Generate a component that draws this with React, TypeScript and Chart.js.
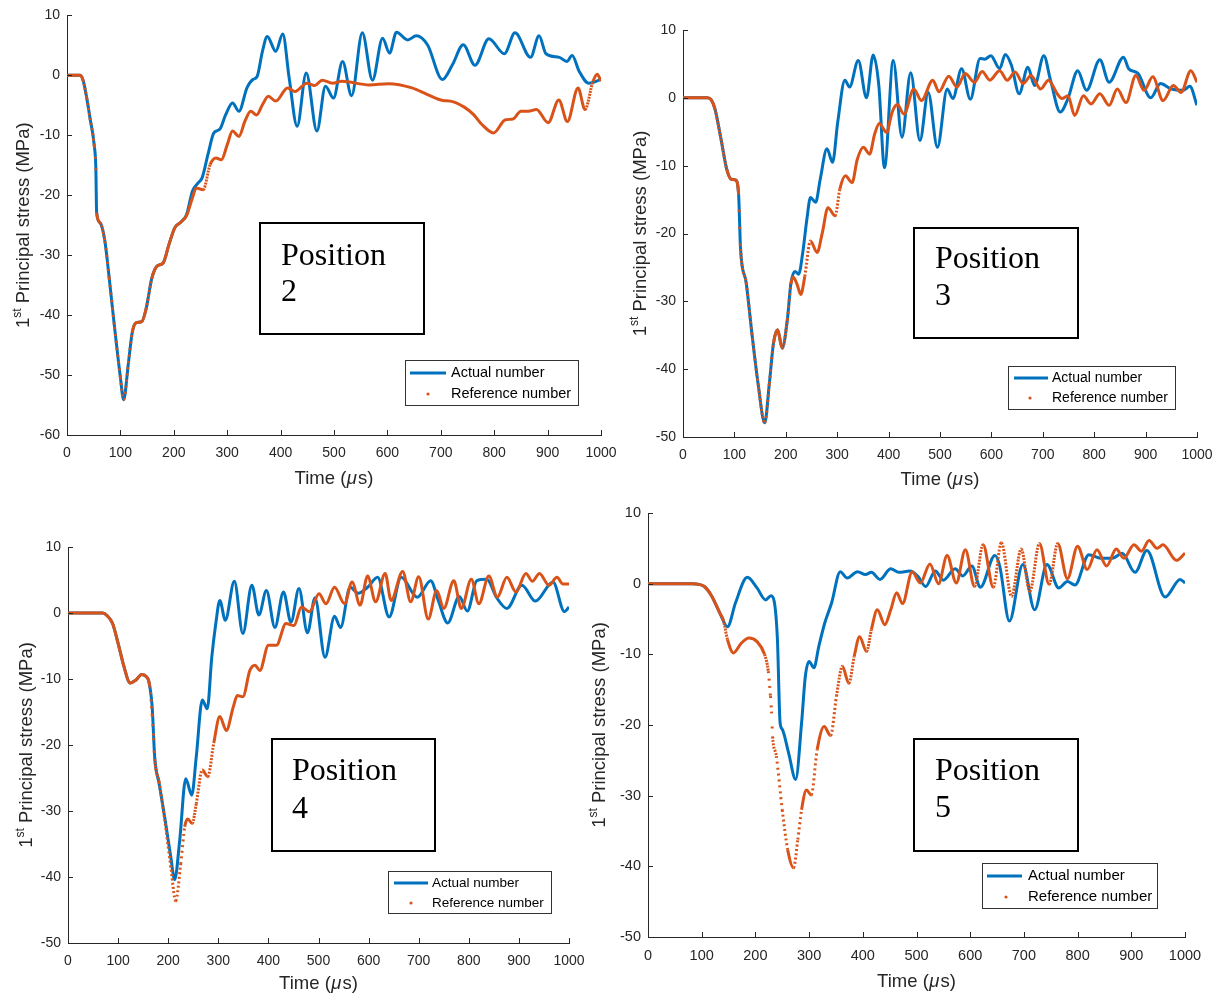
import { useEffect, useRef } from 'react';
import { Chart, registerables } from 'chart.js';

Chart.register(...registerables);

type Pt = [number, number];

const BLUE = '#0072BD';
const ORANGE = '#D95319';
const AXIS = '#262626';
const SANS = "'Liberation Sans', Arial, sans-serif";
const SERIF = "'Liberation Serif', 'Times New Roman', serif";

const seriesNames = ['Actual number', 'Reference number'];
const positionLabels = ['2', '3', '4', '5'];
const xTitleParts = ['Time (', '\u03bc', 's)'];
const yTitleParts = ['1', 'st', ' Principal stress (MPa)'];

// ---------- Position 2 ----------
const pos2Actual: Pt[] = [
  [0, 0], [24, 0], [30, -0.8], [37, -3.8], [43, -7.1], [51, -11.7], [54, -15.5], [55.5, -22.9], [62, -24.6],
  [71, -27.7], [79, -33.8], [89, -42], [100, -50.4], [106, -54.1], [115, -48], [122, -43], [129, -41.3],
  [140, -41.1], [148, -39], [159, -33.8], [169, -31.8], [180, -31.3], [191, -28.2], [202, -25.4], [213, -24.5],
  [224, -23.2], [235, -19.3], [246, -17.9], [253, -17.1], [264, -13.2], [275, -9.6], [286, -9], [297, -6.6],
  [310, -4.6], [322, -6], [337, -2.1], [348, -0.7], [356, -0.2], [366, 4], [375, 6.5], [391, 4], [404, 6.9],
  [416, -0.4], [431, -8.5], [448, 0.4], [468, -9.3], [484, -1.8], [499, -3.8], [516, 2.3], [533, -3.4],
  [553, 7.1], [572, -0.8], [591, 6.2], [604, 3.7], [617, 7.2], [638, 5.9], [654, 6.6], [675, 5.1], [703, -0.7],
  [722, 1.8], [742, 5.1], [764, 1.7], [790, 6.1], [819, 3.6], [839, 7.1], [868, 3], [884, 6.6], [897, 3.6],
  [922, 3], [936, 2.3], [946, 3.3], [959, 0.7], [977, -1.3], [991, -1], [1000, -0.6],
];
const pos2Reference: Pt[] = [
  [0, 0], [24, 0], [30, -0.8], [37, -3.8], [43, -7.1], [51, -11.7], [54, -15.5], [55.5, -22.9], [62, -24.6],
  [71, -27.7], [79, -33.8], [89, -42], [100, -50.4], [106, -54.1], [115, -48], [122, -43], [129, -41.3],
  [140, -41.1], [148, -39], [159, -33.8], [169, -31.8], [180, -31.3], [191, -28.2], [202, -25.4], [213, -24.5],
  [224, -23.4], [235, -20.4], [242, -18.8], [255, -19.1], [268, -14.9], [279, -13.8], [289, -14.1], [300, -11.6],
  [310, -9.3], [322, -10.2], [333, -7.7], [344, -6], [355, -6.6], [366, -4.9], [377, -3.5], [391, -4.3],
  [413, -2.1], [427, -2.7], [449, -1.3], [464, -1.7], [478, -0.8], [497, -1.3], [515, -1], [566, -1.6],
  [602, -1.4], [646, -2.1], [675, -3.2], [704, -4.2], [718, -4.3], [744, -5.3], [762, -6.6], [777, -8.2],
  [799, -9.6], [821, -7.4], [835, -7.3], [850, -6], [864, -6], [879, -5.7], [901, -7.9], [921, -4.1],
  [937, -7.7], [957, -2.1], [970, -5.7], [985, -1], [993, 0.2], [1000, -1],
];

// ---------- Position 3 ----------
const pos3Actual: Pt[] = [
  [0, 0], [47, 0], [55, -0.3], [62, -1.6], [74, -6.1], [85, -10.5], [94, -12], [102, -12.1], [108, -14],
  [112, -22.3], [123, -27.3], [134, -34.7], [146, -42.1], [159, -47.9], [168, -42.1], [176, -36.2], [184, -34.2],
  [193, -36.9], [203, -32.7], [210, -27.3], [218, -25.6], [225, -26], [233, -22.8], [241, -17.9], [248, -14.7],
  [258, -15.4], [267, -12], [280, -7.5], [291, -9.5], [301, -3.6], [315, 2.6], [324, 1.6], [341, 5.5], [357, 0],
  [370, 6.3], [381, 1.8], [392, -10.3], [409, 5.5], [426, -5.8], [443, 3.7], [461, -6.3], [477, 0.8],
  [495, -7.3], [514, 1.3], [525, -0.1], [542, 4.3], [559, -0.2], [578, 5.8], [587, 5.7], [599, 6.2],
  [616, 4.3], [627, 6.4], [639, 4.8], [654, 0.6], [671, 4.5], [684, 1.8], [702, 6.2], [715, 2.6], [734, -2.1],
  [749, -0.1], [768, 4], [785, 1.1], [811, 5.6], [829, 2.3], [857, 6], [867, 4.3], [885, 3.6], [910, 0],
  [929, 2.1], [950, 1.3], [973, 1.1], [986, 1.7], [1000, -1.1],
];
const pos3Reference: Pt[] = [
  [0, 0], [47, 0], [55, -0.3], [62, -1.6], [74, -6.1], [85, -10.5], [94, -12], [102, -12.1], [108, -14],
  [112, -22.3], [123, -27.3], [134, -34.7], [146, -42.1], [159, -47.9], [168, -42.1], [176, -36.2], [184, -34.2],
  [193, -36.9], [203, -32.7], [210, -27.5], [214, -26.4], [222, -27.5], [229, -29], [237, -26.3], [248, -21.1],
  [261, -22.8], [271, -19.9], [282, -16.2], [296, -17.4], [305, -13.5], [316, -11.5], [329, -12.5], [339, -9.1],
  [351, -7.3], [363, -8.3], [373, -5.3], [382, -3.8], [396, -5.1], [407, -2.1], [417, -1], [430, -2.4],
  [449, 1.3], [464, -0.4], [486, 2.6], [498, 0.9], [517, 3.2], [533, 1.6], [549, 3.6], [567, 2.3], [582, 3.9],
  [597, 2.6], [616, 4], [631, 2.6], [646, 3.8], [662, 2.1], [677, 3.3], [696, 1.3], [711, 2.6], [728, 0.6],
  [737, -0.1], [749, 0.3], [762, -2.6], [779, 0.3], [794, -0.9], [811, 0.6], [829, -1.1], [845, 1.3],
  [862, -0.7], [881, 3.3], [897, 1.1], [914, 3.1], [934, -0.4], [954, 1.8], [969, 0.8], [988, 4], [1000, 2.3],
];

// ---------- Position 4 ----------
const pos4Actual: Pt[] = [
  [0, 0], [69, 0], [78, -0.4], [89, -1.6], [100, -4.6], [112, -8.2], [124, -10.6], [135, -10.2], [147, -9.3],
  [157, -9.7], [161, -10.3], [168, -14.2], [173, -21.8], [182, -25.9], [194, -31.4], [205, -36.9], [213, -40.4],
  [223, -34.4], [235, -25.1], [247, -27.6], [256, -21.8], [268, -13.2], [278, -14.5], [287, -6.7], [295, -1.6],
  [303, 1.9], [314, -1.1], [332, 4.8], [349, -3.1], [367, 4.2], [381, -0.3], [396, 3.4], [413, -2.2],
  [430, 3.2], [445, -1.4], [461, 3.7], [478, -3], [493, 2.3], [513, -6.7], [532, -0.5], [544, -2.2],
  [563, 3.9], [579, 3], [598, 3.9], [618, 5.4], [641, -0.6], [665, 5.4], [697, 2.4], [724, 4.9], [739, 1.9],
  [758, -1.5], [781, 2.5], [797, 0.3], [816, 4.9], [836, 5.1], [855, 2.4], [876, 0.7], [906, 4.2], [933, 1.8],
  [968, 4.7], [991, 0.2], [1000, 0.9],
];
const pos4Reference: Pt[] = [
  [0, 0], [69, 0], [78, -0.4], [89, -1.6], [100, -4.6], [112, -8.2], [124, -10.6], [135, -10.2], [147, -9.3],
  [157, -9.7], [163, -11], [168, -15.4], [171, -19], [173, -22.1], [182, -25.6], [194, -31.9], [205, -38.3],
  [215, -43.6], [225, -38], [233, -32.4], [239, -31.2], [248, -31.9], [256, -28.9], [268, -23.8], [279, -24.8],
  [291, -19.7], [303, -15.7], [316, -17.8], [330, -14.2], [338, -12.5], [349, -12.7], [363, -8.7], [373, -7.9],
  [383, -8.7], [400, -4.9], [416, -4.9], [435, -1.6], [451, -1.9], [466, 0.9], [482, 0.2], [501, 2.9],
  [515, 1.4], [532, 3.9], [552, 1.4], [567, 4.7], [583, 1.2], [598, 5.6], [614, 1.7], [633, 6], [645, 1.9],
  [668, 6.3], [684, 1.7], [700, 5.5], [719, -0.9], [736, 3.4], [750, 0.7], [770, 4.9], [785, 0.7], [805, 5.1],
  [820, 1.4], [840, 5.6], [857, 2.4], [876, 5.4], [894, 3.2], [914, 6], [927, 4.8], [941, 6], [960, 4.2],
  [976, 5.4], [988, 4.4], [1000, 4.4],
];

// ---------- Position 5 ----------
const pos5Actual: Pt[] = [
  [0, 0], [83, 0], [95, -0.1], [105, -0.4], [119, -1.8], [134, -4.2], [148, -6.1], [163, -2.7], [185, 0.9],
  [203, -0.6], [219, -2.3], [229, -1.7], [235, -2.5], [241, -7.9], [246, -19.7], [250, -20.6], [262, -24],
  [275, -27.7], [286, -19.7], [293, -13.1], [300, -11], [309, -11.9], [318, -8.9], [329, -5.6], [342, -2.7],
  [358, 1.7], [371, 0.8], [390, 1.7], [405, 1.3], [416, 1.6], [432, 0.6], [452, 2.1], [467, 1.6], [488, 1.8],
  [503, 1], [517, -0.4], [535, 1.8], [550, 0.5], [572, 2.1], [586, 1.1], [603, 2.5], [619, -0.5], [646, 4],
  [655, 2.5], [673, -5.3], [698, 2.7], [720, -3.7], [743, 2.7], [765, -0.6], [781, 0.3], [795, -0.2],
  [821, 4.1], [843, 3.6], [865, 3.6], [883, 4.3], [907, 1.6], [929, 4.7], [963, -1.9], [991, 0.6], [1000, 0.1],
];
const pos5Reference: Pt[] = [
  [0, 0], [83, 0], [95, -0.1], [105, -0.4], [119, -1.8], [134, -4.2], [140, -5.1], [148, -7.9], [159, -9.8],
  [174, -8.4], [188, -7.7], [203, -8.2], [217, -10], [224, -12.4], [228, -15.9], [230, -18.1], [232, -21.6],
  [239, -24.4], [250, -32], [260, -37.6], [271, -40.2], [279, -36.2], [286, -32], [295, -29.2], [304, -29.9],
  [315, -23.5], [328, -20.2], [340, -21.5], [351, -15.9], [362, -11.7], [374, -14.1], [384, -10.3], [394, -7.5],
  [407, -9.6], [416, -6.5], [427, -3.7], [441, -5.8], [452, -3.7], [463, -1.3], [474, -2.8], [492, 1.7],
  [507, 0.1], [525, 2.8], [541, 0], [557, 4], [574, 0.1], [591, 4.8], [608, -0.4], [624, 5.5], [643, -0.5],
  [658, 5.8], [677, -1.8], [695, 4.9], [711, -1.1], [729, 5.7], [747, -0.1], [763, 5.7], [781, 0.7], [800, 5.3],
  [818, 2], [836, 4.8], [854, 2.5], [872, 4.9], [886, 3.6], [905, 5.5], [919, 4.6], [933, 6.1], [948, 5],
  [959, 5.5], [984, 3.3], [1000, 4.3],
];

interface PanelCfg {
  canvas: { left: number; top: number; width: number; height: number };
  area: { l: number; t: number; r: number; b: number };
  yMin: number;
  yMax: number;
  actual: Pt[];
  reference: Pt[];
  label: string;
  sampleUs: number;
  tickSize: number;
  yTitleX: number;
  xTitleY: number;
  box: { l: number; t: number; r: number; b: number; textX: number; base1: number; base2: number };
  legend: { l: number; t: number; r: number; b: number; x0: number; x1: number; dotX: number; textX: number; row1: number; row2: number; size: number };
}

const panels: PanelCfg[] = [
  {
    canvas: { left: 0, top: 0, width: 640, height: 492 },
    area: { l: 67, t: 14, r: 601, b: 435 },
    yMin: -60, yMax: 10, actual: pos2Actual, reference: pos2Reference, label: positionLabels[0],
    sampleUs: 1.5, tickSize: 14, yTitleX: 22, xTitleY: 477,
    box: { l: 260, t: 223, r: 424, b: 334, textX: 281, base1: 265, base2: 301 },
    legend: { l: 405, t: 360, r: 578, b: 405, x0: 410, x1: 446, dotX: 428, textX: 451, row1: 373, row2: 394, size: 14.5 },
  },
  {
    canvas: { left: 615, top: 0, width: 625, height: 492 },
    area: { l: 683, t: 30, r: 1197, b: 437 },
    yMin: -50, yMax: 10, actual: pos3Actual, reference: pos3Reference, label: positionLabels[1],
    sampleUs: 1.2, tickSize: 14, yTitleX: 639, xTitleY: 478,
    box: { l: 914, t: 228, r: 1078, b: 338, textX: 935, base1: 268, base2: 305 },
    legend: { l: 1008, t: 366, r: 1175, b: 409, x0: 1014, x1: 1048, dotX: 1030, textX: 1052, row1: 378, row2: 398, size: 14 },
  },
  {
    canvas: { left: 0, top: 495, width: 605, height: 498 },
    area: { l: 68, t: 547, r: 569, b: 943 },
    yMin: -50, yMax: 10, actual: pos4Actual, reference: pos4Reference, label: positionLabels[2],
    sampleUs: 1.2, tickSize: 14, yTitleX: 25, xTitleY: 982,
    box: { l: 272, t: 739, r: 435, b: 851, textX: 292, base1: 780, base2: 818 },
    legend: { l: 388, t: 871, r: 551, b: 913, x0: 394, x1: 428, dotX: 411, textX: 432, row1: 883, row2: 903, size: 13.5 },
  },
  {
    canvas: { left: 580, top: 495, width: 641, height: 498 },
    area: { l: 648, t: 513, r: 1185, b: 937 },
    yMin: -50, yMax: 10, actual: pos5Actual, reference: pos5Reference, label: positionLabels[3],
    sampleUs: 1.2, tickSize: 14.5, yTitleX: 598, xTitleY: 980,
    box: { l: 914, t: 739, r: 1078, b: 851, textX: 935, base1: 780, base2: 817 },
    legend: { l: 982, t: 863, r: 1157, b: 908, x0: 987, x1: 1022, dotX: 1006, textX: 1028, row1: 876, row2: 897, size: 15 },
  },
];

function makeDotDash(sampleUs: number) {
  return (ctx: any) => {
    const dx = Math.abs(ctx.p1.x - ctx.p0.x);
    const dy = Math.abs(ctx.p1.y - ctx.p0.y);
    const dt = Math.abs(ctx.p1.parsed.x - ctx.p0.parsed.x) || 1;
    const step = (sampleUs * Math.hypot(dx, dy)) / dt;
    return step > 2.9 ? [2, step - 2] : undefined;
  };
}

function decorPlugin(p: PanelCfg) {
  return {
    id: 'decor',
    afterDraw(chart: any) {
      const ctx: CanvasRenderingContext2D = chart.ctx;
      const ox = p.canvas.left;
      const oy = p.canvas.top;
      const xs = chart.scales.x;
      const ys = chart.scales.y;
      const ca = chart.chartArea;
      ctx.save();

      // inward tick marks
      ctx.strokeStyle = AXIS;
      ctx.lineWidth = 1;
      ctx.beginPath();
      xs.ticks.forEach((t: any) => {
        const px = Math.round(xs.getPixelForValue(t.value)) + 0.5;
        ctx.moveTo(px, ca.bottom);
        ctx.lineTo(px, ca.bottom - 5);
      });
      ys.ticks.forEach((t: any) => {
        const py = Math.round(ys.getPixelForValue(t.value)) + 0.5;
        ctx.moveTo(ca.left, py);
        ctx.lineTo(ca.left + 5, py);
      });
      ctx.stroke();

      // y title with superscript
      const big = 18.5;
      const small = 12;
      ctx.fillStyle = AXIS;
      ctx.textBaseline = 'alphabetic';
      ctx.textAlign = 'left';
      ctx.font = `${big}px ${SANS}`;
      const w1 = ctx.measureText(yTitleParts[0]).width;
      const w3 = ctx.measureText(yTitleParts[2]).width;
      ctx.font = `${small}px ${SANS}`;
      const w2 = ctx.measureText(yTitleParts[1]).width;
      const total = w1 + w2 + w3;
      const cy = (ca.top + ca.bottom) / 2;
      ctx.save();
      ctx.translate(p.yTitleX - ox, cy);
      ctx.rotate(-Math.PI / 2);
      let u = -total / 2;
      ctx.font = `${big}px ${SANS}`;
      ctx.fillText(yTitleParts[0], u, 6.5);
      u += w1;
      ctx.font = `${small}px ${SANS}`;
      ctx.fillText(yTitleParts[1], u, -1.5);
      u += w2;
      ctx.font = `${big}px ${SANS}`;
      ctx.fillText(yTitleParts[2], u, 6.5);
      ctx.restore();

      // x title with italic mu
      const xt = 18.5;
      ctx.font = `${xt}px ${SANS}`;
      const a = ctx.measureText(xTitleParts[0]).width;
      const c = ctx.measureText(xTitleParts[2]).width;
      ctx.font = `italic ${xt}px ${SANS}`;
      const b = ctx.measureText(xTitleParts[1]).width + 1.5;
      let xx = (ca.left + ca.right) / 2 - (a + b + c) / 2;
      const ty = p.xTitleY - oy + 6.5;
      ctx.font = `${xt}px ${SANS}`;
      ctx.fillText(xTitleParts[0], xx, ty);
      xx += a;
      ctx.font = `italic ${xt}px ${SANS}`;
      ctx.fillText(xTitleParts[1], xx + 0.5, ty);
      xx += b;
      ctx.font = `${xt}px ${SANS}`;
      ctx.fillText(xTitleParts[2], xx, ty);

      // position text box
      const bx = p.box;
      ctx.fillStyle = '#ffffff';
      ctx.fillRect(bx.l - ox, bx.t - oy, bx.r - bx.l, bx.b - bx.t);
      ctx.strokeStyle = '#000000';
      ctx.lineWidth = 2;
      ctx.strokeRect(bx.l - ox, bx.t - oy, bx.r - bx.l, bx.b - bx.t);
      ctx.fillStyle = '#000000';
      ctx.font = `32px ${SERIF}`;
      ctx.fillText('Position', bx.textX - ox, bx.base1 - oy);
      ctx.fillText(p.label, bx.textX - ox, bx.base2 - oy);

      // legend
      const lg = p.legend;
      ctx.fillStyle = '#ffffff';
      ctx.fillRect(lg.l - ox, lg.t - oy, lg.r - lg.l, lg.b - lg.t);
      ctx.strokeStyle = '#333333';
      ctx.lineWidth = 1;
      ctx.strokeRect(lg.l - ox + 0.5, lg.t - oy + 0.5, lg.r - lg.l, lg.b - lg.t);
      ctx.strokeStyle = BLUE;
      ctx.lineWidth = 3;
      ctx.beginPath();
      ctx.moveTo(lg.x0 - ox, lg.row1 - oy);
      ctx.lineTo(lg.x1 - ox, lg.row1 - oy);
      ctx.stroke();
      ctx.fillStyle = ORANGE;
      ctx.beginPath();
      ctx.arc(lg.dotX - ox, lg.row2 - oy, 1.6, 0, Math.PI * 2);
      ctx.fill();
      ctx.fillStyle = '#000000';
      ctx.textBaseline = 'middle';
      ctx.font = `${lg.size}px ${SANS}`;
      ctx.fillText(seriesNames[0], lg.textX - ox, lg.row1 - oy);
      ctx.fillText(seriesNames[1], lg.textX - ox, lg.row2 - oy);

      ctx.restore();
    },
  };
}

function Panel({ p }: { p: PanelCfg }) {
  const ref = useRef<HTMLCanvasElement | null>(null);
  useEffect(() => {
    if (!ref.current) return;
    const yW = p.area.l - p.canvas.left;
    const xH = p.canvas.top + p.canvas.height - p.area.b;
    const padTop = p.area.t - p.canvas.top;
    const padRight = p.canvas.left + p.canvas.width - p.area.r;
    const chart = new Chart(ref.current, {
      type: 'line',
      data: {
        datasets: [
          {
            label: seriesNames[0],
            data: p.actual.map(([x, y]) => ({ x, y })),
            borderColor: BLUE,
            borderWidth: 3,
            pointRadius: 0,
            cubicInterpolationMode: 'monotone',
            fill: false,
            order: 2,
          },
          {
            label: seriesNames[1],
            data: p.reference.map(([x, y]) => ({ x, y })),
            borderColor: ORANGE,
            borderWidth: 3,
            pointRadius: 0,
            cubicInterpolationMode: 'monotone',
            fill: false,
            order: 1,
            segment: { borderDash: makeDotDash(p.sampleUs) },
          } as any,
        ],
      },
      options: {
        animation: false,
        responsive: false,
        devicePixelRatio: 1,
        layout: { padding: { top: padTop, right: padRight, left: 0, bottom: 0 } },
        plugins: { legend: { display: false }, tooltip: { enabled: false } },
        scales: {
          x: {
            type: 'linear',
            min: 0,
            max: 1000,
            ticks: {
              stepSize: 100,
              color: AXIS,
              font: { family: SANS, size: p.tickSize },
              padding: 10,
              maxRotation: 0,
              autoSkip: false,
              callback: (v: any) => String(v),
            },
            grid: { display: false, drawTicks: false },
            border: { display: true, color: AXIS, width: 1 },
            afterFit: (s: any) => {
              s.height = xH;
            },
          },
          y: {
            type: 'linear',
            min: p.yMin,
            max: p.yMax,
            ticks: {
              stepSize: 10,
              color: AXIS,
              font: { family: SANS, size: p.tickSize },
              padding: 7,
              autoSkip: false,
              callback: (v: any) => String(v),
            },
            grid: { display: false, drawTicks: false },
            border: { display: true, color: AXIS, width: 1 },
            afterFit: (s: any) => {
              s.width = yW;
            },
          },
        },
      } as any,
      plugins: [decorPlugin(p)],
    });
    return () => chart.destroy();
  }, [p]);
  return (
    <canvas
      ref={ref}
      width={p.canvas.width}
      height={p.canvas.height}
      style={{
        position: 'absolute',
        left: p.canvas.left,
        top: p.canvas.top,
        width: p.canvas.width,
        height: p.canvas.height,
      }}
    />
  );
}

export default function App() {
  return (
    <div
      style={{
        position: 'absolute',
        left: 0,
        top: 0,
        width: 1221,
        height: 993,
        background: '#ffffff',
        overflow: 'hidden',
      }}
    >
      {panels.map((p, i) => (
        <Panel key={i} p={p} />
      ))}
    </div>
  );
}
